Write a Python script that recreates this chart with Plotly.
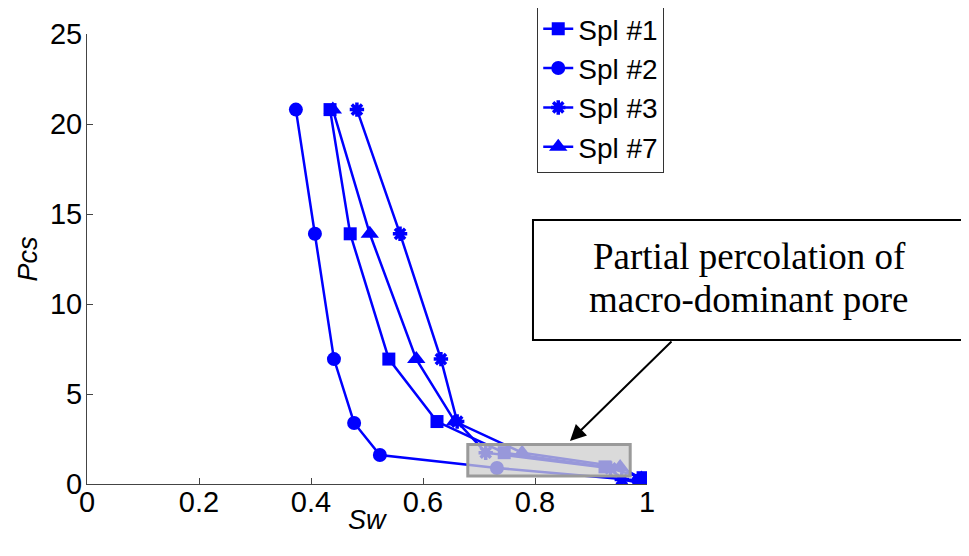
import plotly.graph_objects as go

names = ["Spl #1", "Spl #2", "Spl #3", "Spl #7"]
symbols = ["square", "circle", "asterisk-open", "triangle-up"]

sw_1 = [0.434, 0.470, 0.539, 0.625, 0.745, 0.925, 0.993, 1.0]
pcs_1 = [20.8, 13.9, 6.94, 3.47, 1.74, 0.95, 0.35, 0.05]
sw_2 = [0.373, 0.407, 0.441, 0.477, 0.523, 0.732, 0.985, 1.0]
pcs_2 = [20.8, 13.9, 6.94, 3.39, 1.61, 0.89, 0.2, 0.0]
sw_3 = [0.482, 0.559, 0.632, 0.661, 0.712, 0.935, 0.955, 1.0]
pcs_3 = [20.8, 13.9, 6.94, 3.47, 1.74, 0.87, 0.25, 0.0]
sw_7 = [0.439, 0.505, 0.588, 0.657, 0.777, 0.952, 0.99, 1.0]
pcs_7 = [20.8, 13.9, 6.94, 3.47, 1.74, 0.95, 0.3, 0.0]

series_x = [sw_1, sw_2, sw_3, sw_7]
series_y = [pcs_1, pcs_2, pcs_3, pcs_7]
sizes = [13, 14, 12, 16]

x_ticks = [0, 0.2, 0.4, 0.6, 0.8, 1]
x_tick_labels = ["0", "0.2", "0.4", "0.6", "0.8", "1"]
y_ticks = [0, 5, 10, 15, 20, 25]

fig = go.Figure()
for nm, sym, xs, ys, sz in zip(names, symbols, series_x, series_y, sizes):
    mk = dict(symbol=sym, size=sz, color="#0000FF")
    if sym == "asterisk-open":
        mk["line"] = dict(color="#0000FF", width=3.5)
    fig.add_trace(go.Scatter(x=xs, y=ys, name=nm, mode="lines+markers",
                             line=dict(color="#0000FF", width=2.5), marker=mk))

# gray highlight box
fig.add_shape(type="rect", xref="x", yref="y", x0=0.68, x1=0.97, y0=0.44, y1=2.2,
              fillcolor="rgba(205,205,205,0.74)", line=dict(color="#9a9a9a", width=3),
              layer="above")

# text box
fig.add_shape(type="rect", xref="paper", yref="paper", x0=0.7964, x1=1.5696,
              y0=0.32, y1=0.5867, fillcolor="white", line=dict(color="black", width=2),
              layer="above")
serif = dict(family="Liberation Serif, Times New Roman, serif", size=37, color="black")
fig.add_annotation(xref="paper", yref="paper", x=1.183, y=0.506, showarrow=False,
                   text="Partial percolation of", font=serif,
                   xanchor="center", yanchor="middle")
fig.add_annotation(xref="paper", yref="paper", x=1.183, y=0.41, showarrow=False,
                   text="macro-dominant pore", font=serif,
                   xanchor="center", yanchor="middle")
# arrow
fig.add_annotation(xref="x", yref="y", x=0.8625, y=2.39, ax=103, ay=-101,
                   text="", showarrow=True, arrowhead=2, arrowsize=1.6,
                   arrowwidth=2, arrowcolor="black")

# x-axis title placed as annotation (closer to tick labels than Plotly allows)
fig.add_annotation(xref="paper", yref="paper", x=0.5, y=-0.08, showarrow=False,
                   text="<i>Sw</i>", xanchor="center", yanchor="middle",
                   font=dict(family="Arial, Liberation Sans", size=27, color="black"))

axis_common = dict(showline=True, linecolor="#444", linewidth=1, ticks="inside",
                   ticklen=6, tickcolor="#444", showgrid=False, zeroline=False,
                   mirror=False, automargin=False,
                   tickfont=dict(family="Arial, Liberation Sans", size=29, color="black"))

fig.update_xaxes(range=[0, 1], tickvals=x_ticks, ticktext=x_tick_labels,
                 ticklabelstandoff=-8, **axis_common)
fig.update_yaxes(range=[0, 25], tickvals=y_ticks, ticklabelstandoff=-2,
                 title=dict(text="<i>Pcs</i>", font=dict(family="Arial, Liberation Sans", size=27, color="black"),
                            standoff=4), **axis_common)

# page body has an 8px margin: compensate so the plot area lands where the reference has it
fig.update_layout(
    width=961, height=548,
    margin=dict(l=79, r=322, t=26, b=72, autoexpand=False),
    plot_bgcolor="white", paper_bgcolor="white",
    showlegend=True,
    legend=dict(x=0.804, y=1.069, xanchor="left", yanchor="top",
                bgcolor="white", bordercolor="#333", borderwidth=1,
                font=dict(family="Arial, Liberation Sans", size=28, color="black"),
                tracegroupgap=0, itemwidth=30),
)

fig.write_html("out.html")
